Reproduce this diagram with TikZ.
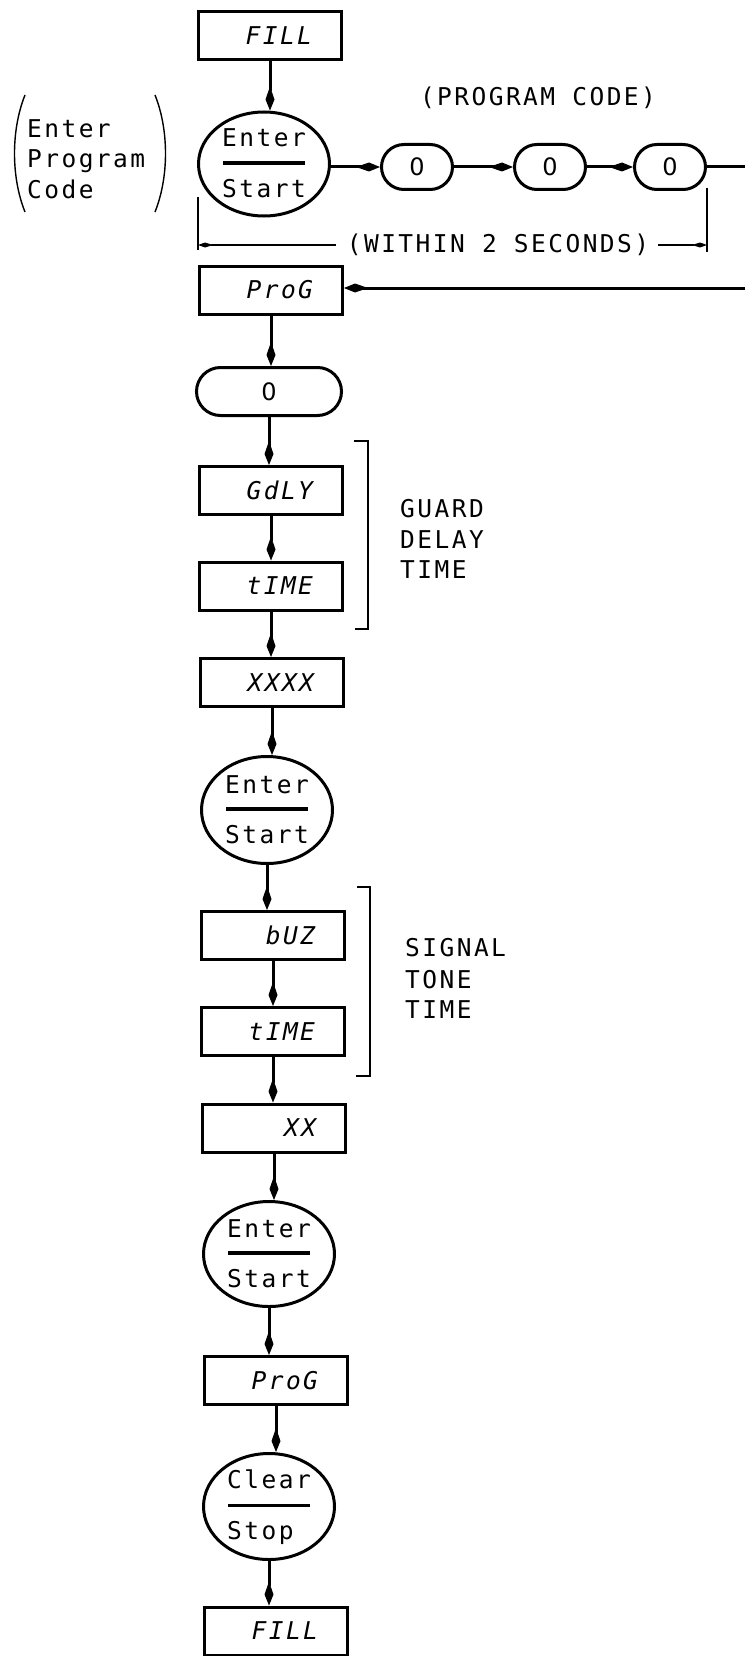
\documentclass[tikz,border=0pt]{standalone}
\usepackage{fontspec}
\newfontfamily\pf[LetterSpace=10]{DejaVu Sans Mono}
\newfontfamily\zf{DejaVu Sans}
\usetikzlibrary{arrows.meta,shapes.geometric,shapes.misc}
\begin{document}
\begin{tikzpicture}[x=1pt,y=-1pt,
  every node/.style={font=\pf\fontsize{24.5}{28}\selectfont, inner sep=0pt},
  box/.style={draw, line width=3pt, minimum width=143pt, minimum height=48pt, text width=84pt, align=right, font=\pf\itshape\fontsize{24.5}{28}\selectfont},
  pill/.style={draw, line width=3pt, rounded rectangle, minimum width=71pt, minimum height=45pt, font=\zf\fontsize{24}{28}\selectfont},
  key/.style={draw, line width=3pt, ellipse, minimum width=131pt, minimum height=104pt},
  conn/.style={line width=3pt, -{Kite[length=24pt,width=9pt,inset=13pt]}},
  plain/.style={line width=3pt},
  brk/.style={line width=1.4pt},
  brkarrow/.style={line width=1.4pt, -{Kite[length=15pt,width=5pt,inset=8pt]}},
  divider/.style={line width=3.2pt},
]
\useasboundingbox (0,0) rectangle (745,1656);

% main column
\node[box] (fill1) at (270,35.5) {FILL};
\node[key] (e1) at (264,164) {};
\node[pill] (p1) at (417,167) {0};
\node[pill] (p2) at (550,167) {0};
\node[pill] (p3) at (670,167) {0};
\node[box] (prog1) at (271,290) {ProG};
\node[pill, minimum width=145pt, minimum height=48pt] (zero) at (269,391.5) {0};
\node[box] (gdly) at (271,490.5) {GdLY};
\node[box] (time1) at (271,586) {tIME};
\node[box] (xxxx) at (272,682.5) {XXXX};
\node[key, minimum height=107pt] (e2) at (267,810) {};
\node[box] (buz) at (273,935.5) {bUZ};
\node[box] (time2) at (273,1031.5) {tIME};
\node[box] (xx) at (274,1128) {XX};
\node[key, minimum height=105pt] (e3) at (269,1254) {};
\node[box] (prog2) at (276,1380.5) {ProG};
\node[key, minimum height=106pt] (e4) at (269,1506.5) {};
\node[box] (fill2) at (276,1631) {FILL};

% key labels
\foreach \k in {e1,e2,e3}{
  \node[anchor=base] (\k t) at ([yshift=17pt]\k.center) {Enter};
  \node[anchor=base] (\k b) at ([yshift=-33pt]\k.center) {Start};
  \draw[divider] ([xshift=-41pt,yshift=1pt]\k.center) -- ([xshift=41pt,yshift=1pt]\k.center);
}
\node[anchor=base] (e4t) at ([yshift=18pt]e4.center) {Clear};
\node[anchor=base west] (e4b) at ([xshift=-42pt,yshift=-33pt]e4.center) {Stop};
\draw[divider] ([xshift=-41pt,yshift=1pt]e4.center) -- ([xshift=41pt,yshift=1pt]e4.center);

% connectors
\draw[conn] (fill1.south) -- (fill1.south |- e1.north);
\draw[conn] (e1.east |- p1.west) -- (p1.west);
\draw[conn] (p1.east) -- (p2.west);
\draw[conn] (p2.east) -- (p3.west);
\coordinate (out) at (745,167);
\draw[plain] (p3.east) -- (out);
\coordinate (back) at (745,288);
\draw[conn] (back) -- (prog1.east |- back);
\draw[conn] (prog1.south) -- (prog1.south |- zero.north);
\draw[conn] (zero.south) -- (zero.south |- gdly.north);
\draw[conn] (gdly.south) -- (gdly.south |- time1.north);
\draw[conn] (time1.south) -- (time1.south |- xxxx.north);
\draw[conn] (xxxx.south) -- (xxxx.south |- e2.north);
\draw[conn] (e2.south) -- (e2.south |- buz.north);
\draw[conn] (buz.south) -- (buz.south |- time2.north);
\draw[conn] (time2.south) -- (time2.south |- xx.north);
\draw[conn] (xx.south) -- (xx.south |- e3.north);
\draw[conn] (e3.south) -- (e3.south |- prog2.north);
\draw[conn] (prog2.south) -- (prog2.south |- e4.north);
\draw[conn] (e4.south) -- (e4.south |- fill2.north);

% program code annotations
\node (pcode) at (538,98) {(PROGRAM CODE)};
\node (within) at (498,245) {(WITHIN 2 SECONDS)};
\coordinate (lt) at (198,197);
\coordinate (lb) at (198,250);
\coordinate (rt) at (707,188);
\coordinate (rb) at (707,252);
\draw[brk] (lt) -- (lb);
\draw[brk] (rt) -- (rb);
\coordinate (la) at (336,245);
\coordinate (ra) at (658,245);
\draw[brkarrow] (la) -- (lt |- la);
\draw[brkarrow] (ra) -- (rt |- ra);

% left parenthesised note
\node[anchor=base west] (n1) at (27,138) {Enter};
\node[anchor=base west] (n2) at (27,168) {Program};
\node[anchor=base west] (n3) at (27,198) {Code};
\draw[brk] (25,95) .. controls (11,130) and (11,177) .. (25,212);
\draw[brk] (155,95) .. controls (169,130) and (169,177) .. (155,212);

% guard delay bracket
\draw[brk] (354,441) -- (368,441) -- (368,629) -- (355,629);
\node[anchor=base west] (g1) at (400,517.5) {GUARD};
\node[anchor=base west] (g2) at (400,548.5) {DELAY};
\node[anchor=base west] (g3) at (400,578.5) {TIME};

% signal tone bracket
\draw[brk] (357,887) -- (370,887) -- (370,1076) -- (356,1076);
\node[anchor=base west] (s1) at (405,956.5) {SIGNAL};
\node[anchor=base west] (s2) at (405,988.5) {TONE};
\node[anchor=base west] (s3) at (405,1018.5) {TIME};
\end{tikzpicture}
\end{document}
